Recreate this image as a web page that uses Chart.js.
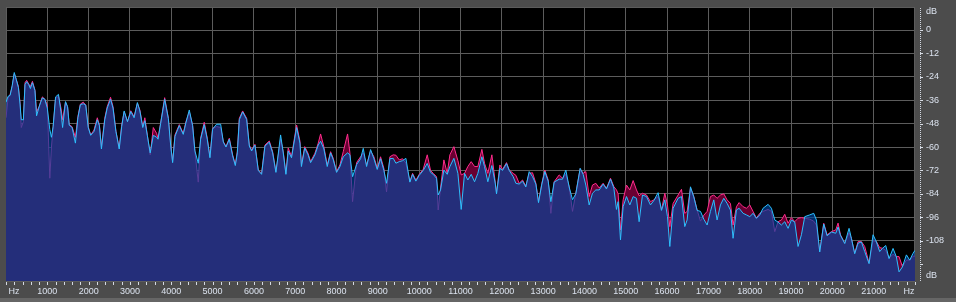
<!DOCTYPE html>
<html>
<head>
<meta charset="utf-8">
<script src="https://cdn.jsdelivr.net/npm/chart.js@4.4.1/dist/chart.umd.min.js"></script>
<style>
  html, body { margin: 0; padding: 0; background: #4c4c4c; overflow: hidden; }
  canvas { display: block; }
</style>
</head>
<body>
<canvas id="spectrum" width="956" height="302"></canvas>
<script>
// frequency bins (Hz), with left / right channel level in dB
const freqs = [
  0, 50, 100, 150, 200, 250, 300, 340, 370, 420, 460, 500, 550, 590, 640, 700, 740, 800, 840, 880,
  940, 1000, 1060, 1100, 1140, 1200, 1270, 1330, 1370, 1440, 1490, 1530, 1600, 1680, 1740, 1800, 1870, 1930, 1990, 2050,
  2130, 2210, 2260, 2310, 2390, 2450, 2530, 2590, 2660, 2740, 2800, 2860, 2940, 3020, 3100, 3180, 3240, 3310, 3360, 3420,
  3490, 3565, 3645, 3680, 3742, 3840, 3930, 3985, 4033, 4090, 4194, 4290, 4355, 4436, 4516, 4572, 4653, 4710, 4798, 4871,
  4936, 5000, 5098, 5195, 5260, 5324, 5405, 5485, 5550, 5598, 5647, 5727, 5824, 5889, 5945, 6025, 6106, 6186, 6267, 6372,
  6453, 6533, 6646, 6710, 6775, 6830, 6910, 7033, 7114, 7150, 7230, 7310, 7372, 7477, 7557, 7614, 7694, 7775, 7856, 7920,
  8001, 8082, 8162, 8267, 8323, 8388, 8485, 8582, 8646, 8727, 8824, 8904, 8985, 9065, 9146, 9210, 9291, 9372, 9436, 9517,
  9598, 9678, 9775, 9840, 9920, 10001, 10098, 10195, 10275, 10340, 10420, 10460, 10517, 10598, 10679, 10743, 10840, 10937, 11017, 11098,
  11178, 11259, 11340, 11420, 11517, 11581, 11662, 11759, 11840, 11872, 11953, 12017, 12114, 12178, 12275, 12340, 12420, 12501, 12581, 12662,
  12743, 12824, 12888, 12969, 13041, 13122, 13187, 13267, 13388, 13469, 13549, 13630, 13711, 13791, 13896, 13968, 14033, 14114, 14194, 14275,
  14356, 14452, 14533, 14630, 14711, 14775, 14815, 14872, 14936, 15017, 15098, 15178, 15259, 15323, 15404, 15501, 15598, 15679, 15783, 15864,
  15945, 16009, 16066, 16146, 16267, 16348, 16428, 16485, 16566, 16646, 16727, 16808, 16888, 16969, 17049, 17130, 17210, 17291, 17372, 17452,
  17533, 17597, 17678, 17743, 17840, 17920, 18001, 18082, 18162, 18243, 18323, 18445, 18525, 18606, 18686, 18767, 18848, 18928, 19009, 19090,
  19170, 19251, 19332, 19453, 19549, 19614, 19694, 19791, 19872, 19977, 20082, 20138, 20195, 20300, 20404, 20460, 20541, 20622, 20703, 20783,
  20888, 20985, 21066, 21146, 21211, 21292, 21372, 21469, 21550, 21614, 21695, 21792, 21872, 21953, 22000
];

const leftDb = [
  -45, -35, -33, -29, -22.5, -25.5, -29, -37.6, -50, -47, -27, -25.8, -27.7, -29, -26.3, -30.8, -42, -39.3, -36.7, -34.3,
  -35.5, -38.5, -76, -60, -50, -35, -34, -40, -46, -37, -39.5, -48.5, -49.6, -55, -44.4, -38, -37, -38.5, -49.6, -53.8,
  -51.3, -45, -48.7, -60, -45.3, -39.3, -34.5, -39.3, -51.8, -60.7, -48.7, -42, -46.9, -41.4, -44.4, -37.6, -41, -49.6, -45, -53.8,
  -64, -50, -53, -55.5, -47.8, -34.7, -45.3, -59, -67.5, -53.8, -48.5, -53, -47, -42, -48.7, -62.4, -78, -55.5, -47.3, -55.5,
  -65, -50.4, -49.5, -50, -57.2, -59.7, -55.5, -64, -69, -62.4, -45.3, -41.5, -45.3, -59, -61.5, -58.6, -71.8, -73.5, -59, -56.9,
  -62.4, -72.6, -56, -62.4, -73.5, -60.5, -64.8, -48.7, -57, -69.2, -59.8, -63.2, -67.5, -63.2, -58, -53.3, -60, -69.2, -62.4, -65.8,
  -72.6, -69.2, -62.4, -53.3, -63, -88, -68, -65, -63, -69.2, -62, -65, -70.9, -65, -71, -83, -65, -64, -64.2, -66.6,
  -66, -68.3, -77.7, -73.5, -77, -74, -71.4, -64, -72, -73.5, -75.2, -92.3, -81, -66.6, -73.5, -64, -59.8, -67, -74.3, -73.5,
  -70, -67.5, -70, -70, -61.2, -68.3, -73.5, -64, -78, -83.7, -69.2, -71.5, -68, -71.8, -73.5, -74.5, -78.6, -76.9, -80, -73.5,
  -73.2, -78.6, -88, -78.6, -71.8, -76.9, -94, -77.8, -74.3, -76, -74, -80.3, -93, -83.7, -71.2, -73.5, -72.6, -85.4, -79.5, -78.6,
  -81, -78.6, -81.2, -76, -80.3, -82, -84, -102.5, -87.1, -79.5, -82, -77.2, -82, -85, -83.7, -84.6, -88, -87.1, -85.4, -92.3,
  -83.7, -89.7, -100.8, -88.9, -84.6, -81.7, -94, -93, -81, -85.4, -92.3, -98, -95, -93, -85.4, -84.6, -86.3, -84.6, -84, -87.1,
  -88.9, -100, -90.6, -88.5, -90.6, -91.4, -89.7, -93.1, -96.4, -94, -93, -92, -93, -103.4, -98.3, -97.4, -94.5, -99.1, -96.2, -98.3,
  -96.5, -96.2, -96.5, -97, -98, -100, -113.6, -99.1, -105, -103.4, -102.5, -99, -105, -109.3, -104, -106.8, -114.5, -108.5, -108.5, -111,
  -119.6, -108, -108.5, -111.6, -111.9, -113, -117, -115, -116.2, -116.2, -121.3, -118, -117.9, -116, -116
];

const rightDb = [
  -37, -34, -33.5, -28.5, -21.8, -25.5, -29.5, -38, -46, -46, -28, -26.5, -28, -30, -27, -31, -44, -39.5, -37, -34.8,
  -35.5, -40, -51, -55, -49.6, -34.3, -33, -42, -50, -36.7, -39.3, -48.8, -50, -58, -45, -38.3, -37.8, -38.5, -50, -54,
  -52, -46, -49, -61, -46, -40, -35.5, -40, -52, -61, -49.5, -41.5, -47, -41.8, -45, -37.2, -41.5, -50, -46.5, -54,
  -63, -54, -55, -56, -48, -35.5, -45.5, -59, -68, -54.5, -49, -53.5, -47.5, -41, -49, -62, -68.3, -56, -48.5, -56,
  -65.5, -50.8, -48.3, -48.3, -57.5, -60, -56, -64.5, -69.5, -63, -46, -42, -45.8, -59.5, -62, -59, -72, -74, -59.5, -57.5,
  -63, -73, -53.8, -63, -74, -62, -65.5, -50, -58, -70, -60.5, -64, -68, -64, -59, -57, -61, -70, -63, -66.5,
  -73, -70, -65, -63, -64, -75.2, -69, -66, -60.7, -70, -61.3, -66, -71.5, -66, -72, -78.6, -66, -65.8, -68.3, -67.5,
  -67, -65.8, -78, -74, -77.5, -74.5, -72, -68.4, -73, -74, -76, -84.6, -82, -71.8, -74, -70, -65.8, -73.5, -92, -73.5,
  -76.9, -74, -77.8, -73.5, -65, -70, -77.8, -69.5, -78.5, -84, -70.9, -72, -68.5, -72, -75.2, -78.6, -79, -77.5, -80.5, -72.6,
  -75.2, -79, -88.5, -79, -72.6, -77.5, -88, -78, -76.5, -76.5, -71.8, -80.5, -87, -84, -70.9, -74, -79.5, -89.7, -83.7, -82,
  -82, -79, -81.5, -76.5, -81, -92, -88, -107.6, -90.6, -85.4, -89.7, -85.4, -86.3, -98.3, -84.6, -85.4, -89.7, -87.5, -83.4, -92.5,
  -87.1, -95.7, -111, -91.4, -86.3, -85.4, -100.8, -97.4, -80.4, -85.6, -92.5, -93, -97, -100, -93, -87.1, -97.4, -89.7, -86.3, -88.9,
  -92.3, -106.8, -92.3, -91.4, -94, -94.8, -95.7, -94, -96.6, -94.8, -91.4, -89.4, -91.4, -97.4, -98.5, -100, -98.3, -101.7, -97.4, -98.5,
  -111, -105, -95.7, -94.8, -94, -97.4, -113.8, -99.5, -105.5, -103.6, -104.2, -101, -105.2, -109.5, -101.7, -106.8, -114.7, -109.3, -108.7, -113.6,
  -119.8, -105, -108.7, -113.6, -112, -110.5, -117.2, -112, -116.4, -124, -121.5, -115.3, -118, -114.5, -113
];

const freqTicks = [1000, 2000, 3000, 4000, 5000, 6000, 7000, 8000, 9000, 10000, 11000,
  12000, 13000, 14000, 15000, 16000, 17000, 18000, 19000, 20000, 21000];
const dbTicks = [0, -12, -24, -36, -48, -60, -72, -84, -96, -108, -120];
const dbLabels = ['0', '-12', '-24', '-36', '-48', '-60', '-72', '-84', '-96', '-108', ''];

const textColor = '#dbe2ee';
const gridColor = '#5c5c5c';
const labelFont = { family: 'Liberation Sans', size: 9 };

const frame = {
  id: 'frame',
  beforeDraw(chart) {
    const { ctx, chartArea: a } = chart;
    ctx.save();
    ctx.fillStyle = '#4c4c4c';
    ctx.fillRect(0, 0, chart.width, chart.height);
    ctx.fillStyle = '#666666';
    ctx.fillRect(0, chart.height - 4, chart.width, 4);
    ctx.fillStyle = '#000000';
    ctx.fillRect(a.left, a.top, a.right - a.left, a.bottom - a.top);
    ctx.restore();
  },
  beforeDatasetsDraw(chart) {
    const { ctx, chartArea: a } = chart;
    ctx.save();
    ctx.strokeStyle = gridColor;
    ctx.lineWidth = 1;
    ctx.strokeRect(a.left + 0.5, a.top + 0.5, a.right - a.left - 1, a.bottom - a.top);
    ctx.restore();
  },
  afterDraw(chart) {
    const { ctx, chartArea: a, scales } = chart;
    const x = scales.x, y = scales.y;
    ctx.save();
    // small ticks along the frequency axis
    ctx.fillStyle = '#d4d9e2';
    for (let f = 0; f <= 22000; f += 200) {
      const px = Math.round(x.getPixelForValue(f));
      ctx.fillRect(px, a.bottom + 1, 1, 3);
    }
    // dotted level ruler on the right
    const rx = a.right + 5;
    for (let py = a.top + 1; py < a.bottom; py += 2) {
      ctx.fillRect(rx, py, 1, 1);
    }
    dbTicks.forEach(v => {
      const py = Math.round(y.getPixelForValue(v));
      ctx.fillRect(rx, py, 3, 1);
    });
    // unit labels
    ctx.fillStyle = textColor;
    ctx.font = '9px "Liberation Sans"';
    ctx.textBaseline = 'middle';
    ctx.textAlign = 'center';
    ctx.fillText('Hz', a.left + 8, a.bottom + 11);
    ctx.fillText('Hz', a.right - 6, a.bottom + 11);
    ctx.textAlign = 'left';
    ctx.fillText('dB', a.right + 11, a.top + 5);
    ctx.fillText('dB', a.right + 11, a.bottom - 5);
    ctx.restore();
  }
};

new Chart(document.getElementById('spectrum'), {
  type: 'line',
  data: {
    datasets: [
      {
        label: 'Right',
        data: freqs.map((f, i) => ({ x: f, y: rightDb[i] })),
        borderColor: '#2cc0ff',
        backgroundColor: 'rgba(0, 70, 160, 0.66)',
        fill: 'start',
        order: 1
      },
      {
        label: 'Left',
        data: freqs.map((f, i) => ({ x: f, y: leftDb[i] })),
        borderColor: '#ff2c8c',
        backgroundColor: '#690032',
        fill: 'start',
        order: 2
      }
    ]
  },
  options: {
    responsive: false,
    animation: false,
    devicePixelRatio: 1,
    layout: { padding: { left: 6, top: 7, right: 0, bottom: 0 } },
    elements: {
      point: { radius: 0 },
      line: { borderWidth: 1, tension: 0 }
    },
    plugins: {
      legend: { display: false },
      tooltip: { enabled: false }
    },
    scales: {
      x: {
        type: 'linear',
        min: 0,
        max: 22000,
        afterBuildTicks: s => { s.ticks = freqTicks.map(v => ({ value: v })); },
        afterFit: s => {
          s.height = 21;
          s.paddingLeft = 0;
          s.paddingRight = 0;
        },
        grid: { color: gridColor, drawTicks: false },
        border: { display: false },
        ticks: {
          color: textColor,
          font: labelFont,
          padding: 5,
          maxRotation: 0,
          autoSkip: false,
          callback: v => String(v)
        }
      },
      y: {
        position: 'right',
        min: -128.7,
        max: 11.8,
        afterBuildTicks: s => { s.ticks = dbTicks.map(v => ({ value: v })); },
        afterFit: s => {
          s.width = 41;
          s.paddingTop = 0;
          s.paddingBottom = 0;
        },
        grid: { color: gridColor, drawTicks: false },
        border: { display: false },
        ticks: {
          color: textColor,
          font: labelFont,
          padding: 11,
          autoSkip: false,
          callback: v => dbLabels[dbTicks.indexOf(v)]
        }
      }
    }
  },
  plugins: [frame]
});
</script>
</body>
</html>
